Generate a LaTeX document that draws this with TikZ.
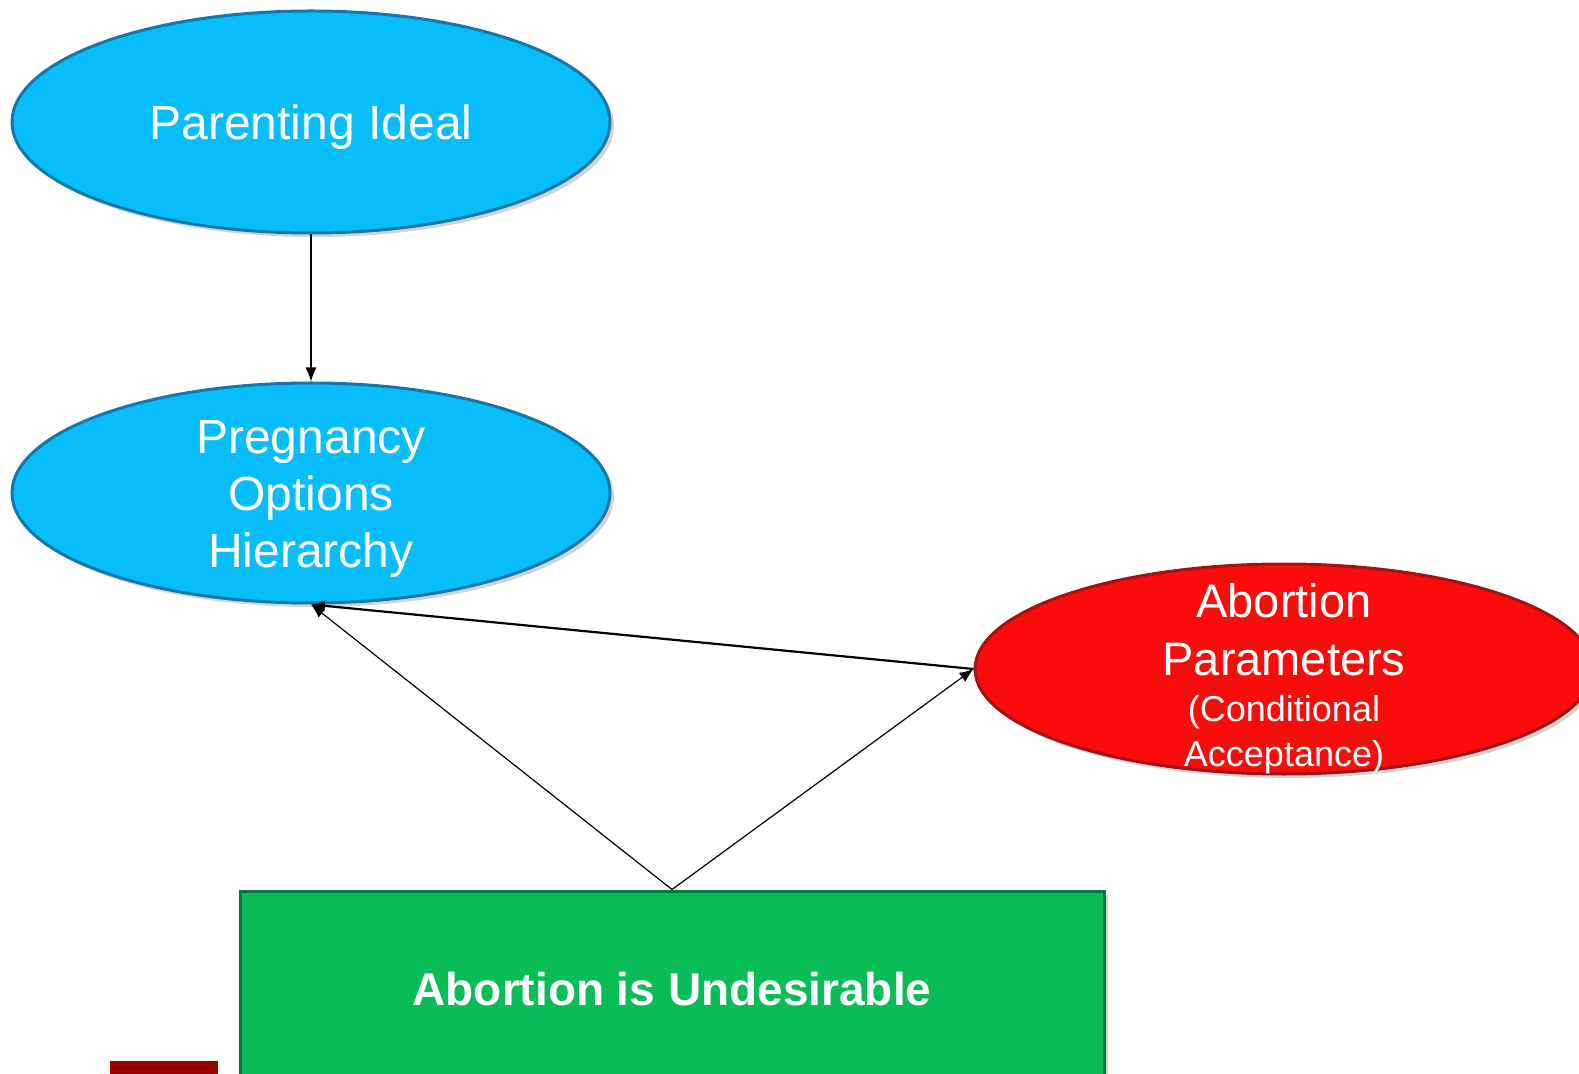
\documentclass[tikz,border=0pt]{standalone}
\usepackage{fontspec}
\setmainfont{Liberation Sans}
\usetikzlibrary{shapes.geometric,shadows,arrows.meta}

\definecolor{skyfill}{RGB}{8,190,250}
\definecolor{skyedge}{RGB}{20,120,170}
\definecolor{redfill}{RGB}{250,12,12}
\definecolor{rededge}{RGB}{160,20,20}
\definecolor{greenfill}{RGB}{8,188,86}
\definecolor{greenedge}{RGB}{10,120,60}
\definecolor{maroon}{RGB}{153,0,0}

\tikzset{
  bubble/.style={ellipse, draw=skyedge, line width=1.5pt, fill=skyfill,
    text=white, align=center, inner sep=0pt,
    drop shadow={shadow xshift=2pt, shadow yshift=-2pt, opacity=0.35}},
  caption/.style={text=white, align=center, inner sep=0pt},
  link/.style={-{Latex[length=7pt,width=5.5pt]}, black, line width=0.6pt}
}
\newcommand{\smalltext}[1]{{\fontsize{18}{22}\selectfont #1}}

\begin{document}
\begin{tikzpicture}[x=0.5pt,y=-0.5pt]
  \useasboundingbox (0,0) rectangle (1579,1074);
  \clip (0,0) rectangle (1579,1074);

  \node[bubble, minimum width=299pt, minimum height=111pt] (ideal) at (311,122) {};
  \node[caption, font=\fontsize{24}{28}\selectfont] (idealtext) at (311,127) {Parenting Ideal};

  \node[bubble, minimum width=299pt, minimum height=110pt] (hierarchy) at (311,493) {};
  \node[caption, font=\fontsize{24}{28.5}\selectfont] (hierarchytext) at (311,499)
    {Pregnancy\\Options\\Hierarchy};

  \node[bubble, draw=rededge, fill=redfill, minimum width=309pt, minimum height=105pt]
    (params) at (1284,669) {};
  \node[caption, font=\fontsize{23.5}{29}\selectfont] (paramstext) at (1284,679)
    {Abortion\\Parameters\\[-6pt]\smalltext{(Conditional}\\[-6.5pt]\smalltext{Acceptance)}};

  \node[rectangle, draw=greenedge, line width=1.5pt, fill=greenfill, text=white,
    minimum width=432pt, minimum height=98pt, inner sep=0pt,
    font=\bfseries\fontsize{23}{27}\selectfont,
    drop shadow={shadow xshift=2pt, shadow yshift=-2pt, opacity=0.35}]
    (undesirable) at (672,989) {Abortion is Undesirable};

  \fill[maroon] (110,1061) rectangle (218,1080);

  \draw[link] (ideal.south) -- (hierarchy.north);
  \draw[link] (undesirable.north) -- (hierarchy.south);
  \draw[link] (undesirable.north) -- (params.west);
  \draw[link, line width=1.1pt] (params.west) -- (hierarchy.south);
\end{tikzpicture}
\end{document}
